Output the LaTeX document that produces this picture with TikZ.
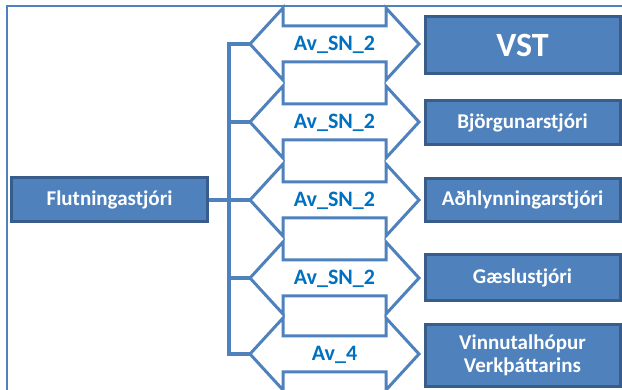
\documentclass[tikz,border=0pt]{standalone}
\usepackage{fontspec}
\setmainfont{Carlito}
\definecolor{accent}{RGB}{79,129,189}
\definecolor{boxborder}{RGB}{56,93,138}
\definecolor{labelblue}{RGB}{0,112,192}
\begin{document}
\begin{tikzpicture}[x=1pt,y=-1pt,
  box/.style={draw=boxborder, line width=3pt, fill=accent, text=white,
    font=\bfseries\fontsize{21}{23}\selectfont, inner sep=0pt, align=center,
    minimum width=195pt},
  arrowline/.style={draw=accent, line width=3pt, line join=miter, fill=white},
  lbl/.style={text=labelblue, font=\bfseries\fontsize{22}{24}\selectfont,
    inner sep=0pt, anchor=base},
  link/.style={draw=accent, line width=3.5pt, line join=miter},
  frame/.style={draw=accent, line width=1.5pt}]
\clip (0,0) rectangle (622,390);
\draw[frame] (7,6) rectangle (700,450);
% left box
\node[box, minimum width=196pt, minimum height=44pt] (flut) at (109.5,200) {Flutningastjóri};
% right boxes
\node[box, minimum height=57pt, font=\bfseries\fontsize{34}{40}\selectfont] (vst) at (522.5,45) {VST};
\node[box, minimum height=44pt] (bjorg) at (522.5,122.5) {Björgunarstjóri};
\node[box, minimum height=43pt] (adhl) at (522.5,200) {Aðhlynningarstjóri};
\node[box, minimum height=46pt] (gaes) at (522.5,277.5) {Gæslustjóri};
\node[box, minimum height=62pt] (vinn) at (522.5,355.5) {Vinnutalhópur\\Verkþáttarins};
% tips of the double arrows
\foreach \i/\y in {1/44,2/122,3/200,4/278,5/354}
  \coordinate (tip\i) at (250,\y);
\coordinate (jn) at (229,200);
% bracket
\draw[link] (flut.east) -- (jn);
\draw[link] (tip1) -- (tip1 -| jn) -- (tip5 -| jn) -- (tip5);
\foreach \i in {2,3,4}
  \draw[link] (tip\i -| jn) -- (tip\i);
% double arrows with labels
\foreach \i/\y/\t in {1/44/Av\_SN\_2,2/122/Av\_SN\_2,3/200/Av\_SN\_2,4/278/Av\_SN\_2,5/354/Av\_4}{
  \draw[arrowline] (tip\i) -- (283,{\y-36}) -- (283,{\y-18}) -- (386,{\y-18}) -- (386,{\y-36})
    -- (419,\y) -- (386,{\y+36}) -- (386,{\y+18}) -- (283,{\y+18}) -- (283,{\y+36}) -- cycle;
  \node[lbl] (lab\i) at (334.5,{\y+6.5}) {\t};
}
\end{tikzpicture}
\end{document}
